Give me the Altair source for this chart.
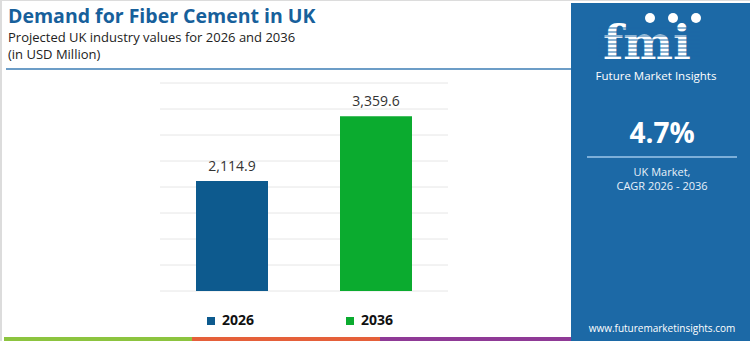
import altair as alt
import pandas as pd

# ---- data ----
years = ["2026", "2036"]
values = [2114.9, 3359.6]
bar_colors = ["#0d5a8e", "#0bab2f"]
grid_values = [0, 500, 1000, 1500, 2000, 2500, 3000, 3500, 4000]
title_text = "Demand for Fiber Cement in UK"
subtitle_lines = ["Projected UK industry values for 2026 and 2036", "(in USD Million)"]
cagr_text = "4.7%"
cagr_label = ["UK Market,", "CAGR 2026 - 2036"]
brand = "Future Market Insights"
site = "www.futuremarketinsights.com"

df = pd.DataFrame({"year": years, "value": values})
grid_df = pd.DataFrame({"g": grid_values})

# plot-area placement inside 750x341 canvas
PL, PT = 160, 83
PW, PH = 288, 208
PR, PB = 750 - PL - PW, 341 - PT - PH
FONT = "Open Sans"
PANEL = "#1c69a6"

one = alt.Data(values=[{"k": 1}])


def X(px):
    return alt.value(px - PL)


def Y(py):
    return alt.value(py - PT)


def text(t, x, y, size, color, weight="normal", align="left", font=FONT, baseline="alphabetic"):
    return alt.Chart(one).mark_text(
        text=t, fontSize=size, color=color, fontWeight=weight, align=align,
        baseline=baseline, font=font
    ).encode(x=X(x), y=Y(y))


def rule(x1, x2, y, color, w):
    return alt.Chart(one).mark_rule(color=color, strokeWidth=w).encode(
        x=X(x1), x2=X(x2), y=Y(y)
    )


def hrect(x1, x2, y1, y2, color):
    return alt.Chart(one).mark_rect(color=color).encode(
        x=X(x1), x2=X(x2), y=Y(y1), y2=Y(y2)
    )


yscale = alt.Scale(domain=[0, 4000], nice=False)

grid = alt.Chart(grid_df).mark_rule(color="#e6e6e6", strokeWidth=1).encode(
    y=alt.Y("g:Q", scale=yscale, axis=None),
    x=alt.value(0), x2=alt.value(PW),
)

bars = alt.Chart(df).mark_bar().encode(
    x=alt.X("year:N", axis=None,
            scale=alt.Scale(paddingInner=0.5, paddingOuter=0.25)),
    y=alt.Y("value:Q", scale=yscale, axis=None),
    color=alt.Color("year:N", scale=alt.Scale(domain=years, range=bar_colors),
                    legend=alt.Legend(orient="none", legendX=44, legendY=231,
                                      direction="horizontal", title=None,
                                      symbolType="square", symbolSize=64,
                                      symbolStrokeWidth=0, symbolOpacity=1,
                                      labelFontSize=14, labelFontWeight="bold",
                                      labelColor="#111", labelFont=FONT,
                                      labelOffset=4, columnPadding=88, padding=0)),
)

labels = alt.Chart(df).mark_text(
    dy=-7, baseline="bottom", fontSize=14, color="#333", font=FONT
).encode(x="year:N", y="value:Q", text=alt.Text("value:Q", format=",.1f"))

layers = [
    # outer light border
    rule(0, 750, 0.5, "#dcdcdc", 1),
    alt.Chart(one).mark_rule(color="#dcdcdc", strokeWidth=2).encode(
        x=X(1), y=Y(0), y2=Y(341)),
    # title block
    text(title_text, 8, 23, 19.5, "#17609b", "bold"),
    text(subtitle_lines[0], 8, 42, 13, "#222"),
    text(subtitle_lines[1], 8, 59, 13, "#222"),
    rule(6, 571, 69, "#3b7db4", 1.5),
    # bottom stripes
    rule(4, 192, 339, "#8cc43f", 4),
    rule(192, 380, 339, "#e5603a", 4),
    rule(380, 571, 339, "#8f3a96", 4),
    # right panel
    hrect(571, 750, 3, 341, PANEL),
    text("fmi", 647, 59, 47, "white", "bold", "center", "DejaVu Serif"),
]
# stripes over the logo letters
for yy in range(28, 60, 4):
    layers.append(rule(598, 700, yy, PANEL, 1.2))
for cx in [650, 673, 696]:
    layers.append(alt.Chart(one).mark_circle(color="white", size=100, opacity=1).encode(
        x=X(cx), y=Y(18)))
layers += [
    text(brand, 656, 80, 11.5, "white", "normal", "center"),
    text(cagr_text, 662, 143, 28, "white", "bold", "center"),
    rule(587, 737, 157, "#9cc7ea", 1.5),
    text(cagr_label[0], 662, 176, 11, "#e8f1fa", "normal", "center"),
    text(cagr_label[1], 662, 190, 11, "#e8f1fa", "normal", "center"),
    text(site, 662, 332, 10, "white", "normal", "center"),
]

chart = alt.layer(grid, bars, labels, *layers).properties(
    width=PW, height=PH,
    padding={"left": PL, "top": PT, "right": PR, "bottom": PB},
    autosize=alt.AutoSizeParams(type="none"),
    background="white",
).configure_view(stroke=None)

chart.save("out.html", embed_options={"renderer": "svg", "actions": False})
